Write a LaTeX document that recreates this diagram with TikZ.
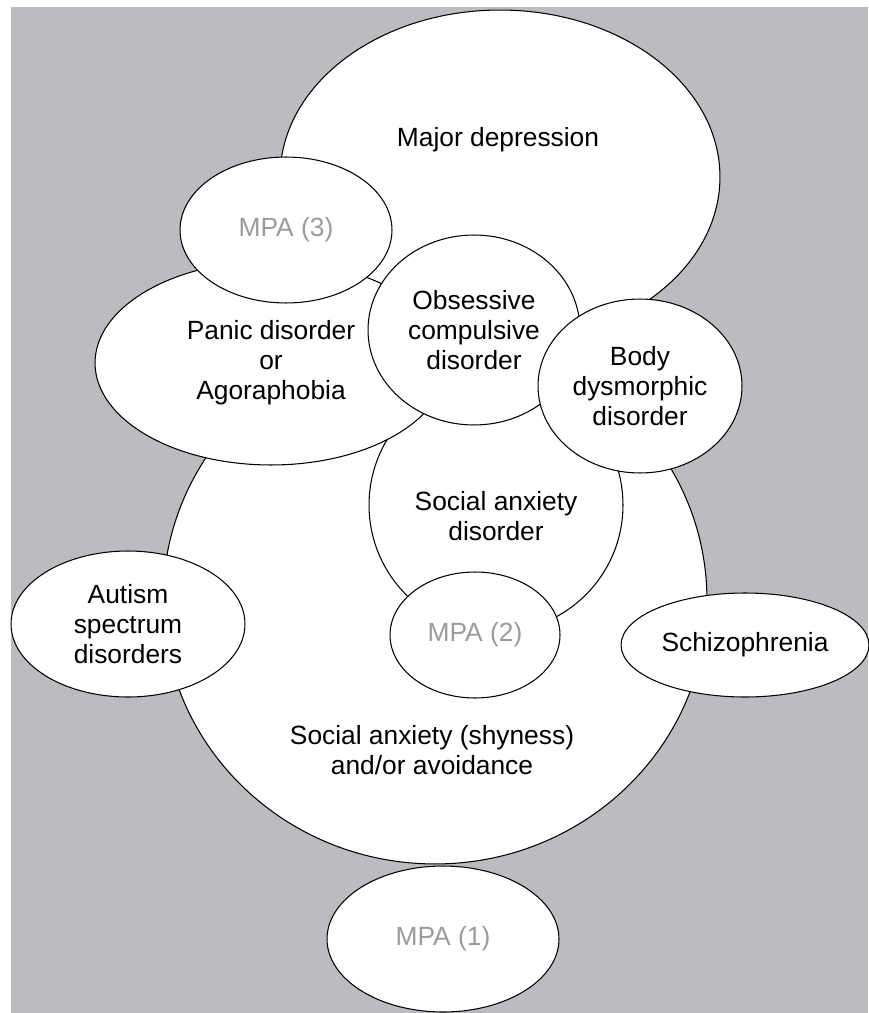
\documentclass[tikz,border=0pt]{standalone}
\usepackage{fontspec}
\setmainfont{Liberation Sans}
\usetikzlibrary{shapes.geometric}
\definecolor{bggray}{RGB}{187,188,192}
\definecolor{mpagray}{RGB}{155,155,155}
\begin{document}
\begin{tikzpicture}[x=.02cm,y=-.02cm,
    font=\fontsize{15}{17.1}\selectfont,
    blob/.style={draw,fill=white,ellipse,inner sep=0pt,align=center,line width=.6pt},
    mpa/.style={blob,text=mpagray}]
  \useasboundingbox (0,0) rectangle (868,1013);
  \fill[bggray] (11,7) rectangle (868,1013);
  \node[blob,minimum width=10.88cm,minimum height=10.56cm] (shy) at (435,600) {};
  \node[blob,minimum width=5.08cm,minimum height=5.08cm] (sad) at (496,505) {};
  \node[blob,minimum width=8.8cm,minimum height=6.68cm] (major) at (500,177) {};
  \node[blob,minimum width=7.04cm,minimum height=4.08cm] (panic) at (271,363)
    {Panic disorder\\or\\Agoraphobia};
  \node[mpa,minimum width=4.24cm,minimum height=2.92cm] (mpa3) at (286,230) {MPA (3)};
  \node[blob,minimum width=4.24cm,minimum height=3.8cm] (ocd) at (474,330)
    {Obsessive\\compulsive\\disorder};
  \node[blob,minimum width=4.08cm,minimum height=3.48cm] (bdd) at (640,386)
    {Body\\dysmorphic\\disorder};
  \node[mpa,minimum width=3.4cm,minimum height=2.52cm] (mpa2) at (475,635) {MPA (2)};
  \node[blob,minimum width=4.68cm,minimum height=2.92cm] (autism) at (128,624)
    {Autism\\spectrum\\disorders};
  \node[blob,minimum width=4.96cm,minimum height=2.08cm] (schizo) at (745,645) {Schizophrenia};
  \node[mpa,minimum width=4.64cm,minimum height=2.92cm] (mpa1) at (443,939) {MPA (1)};
  % labels of the large sets
  \node[align=center] (major-txt) at (498,140) {Major depression};
  \node[align=center] (sad-txt) at (496,516) {Social anxiety\\disorder};
  \node[align=center] (shy-txt) at (432,750) {Social anxiety (shyness)\\and/or avoidance};
\end{tikzpicture}
\end{document}
